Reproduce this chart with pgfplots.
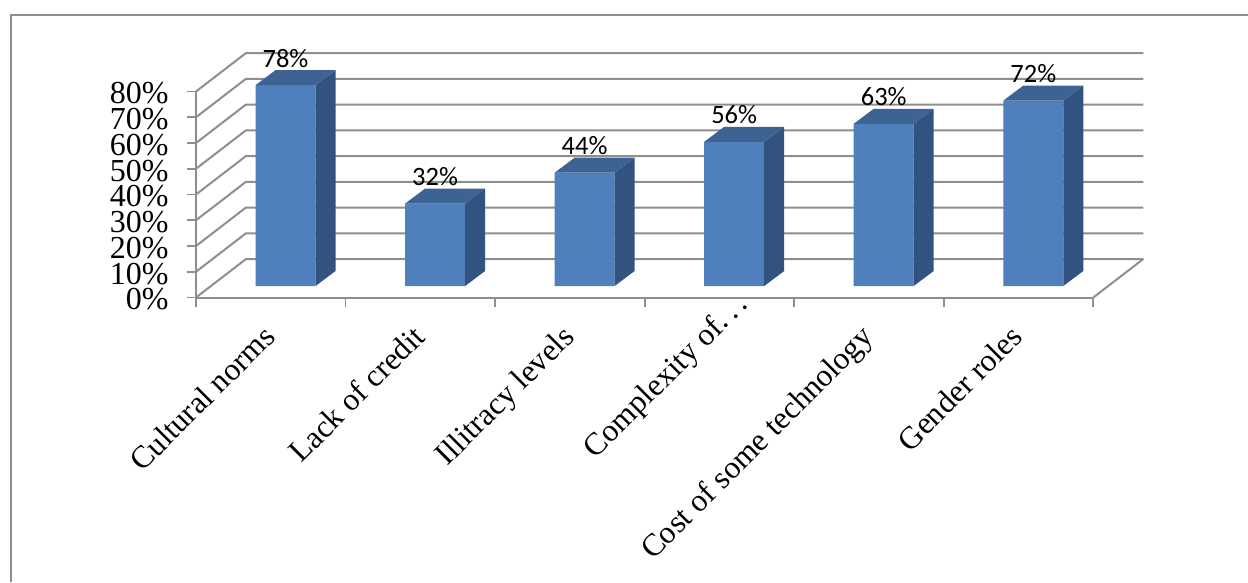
\documentclass[border=0pt]{standalone}
\usepackage{fontspec}
\setmainfont{Liberation Serif}
\newfontfamily\labelfont{Carlito}
\usepackage{pgfplots}
\usepackage{pgfplotstable}
\pgfplotsset{compat=1.18}

\definecolor{wallgray}{HTML}{8E8E8E}
\definecolor{barfront}{HTML}{4F80BD}
\definecolor{barside}{HTML}{325380}
\definecolor{bartop}{HTML}{3C6391}

\pgfplotstableread{
idx share
0 78
1 32
2 44
3 56
4 63
5 72
}\barriers

% Depth faces of a bar: origin is the top centre of its front face,
% \barval is the bar's value, 1% is 2.575pt tall.
\pgfdeclareplotmark{bardepth}{%
  \pgfmathsetmacro{\barh}{\barval*2.575}%
  \pgfsetfillcolor{barside}%
  \pgfpathmoveto{\pgfpoint{30pt}{0pt}}%
  \pgfpathlineto{\pgfpoint{50pt}{15pt}}%
  \pgfpathlineto{\pgfpoint{50pt}{15pt-\barh pt}}%
  \pgfpathlineto{\pgfpoint{30pt}{-\barh pt}}%
  \pgfpathclose
  \pgfusepathqfill
  \pgfsetfillcolor{bartop}%
  \pgfpathmoveto{\pgfpoint{-30pt}{0pt}}%
  \pgfpathlineto{\pgfpoint{30pt}{0pt}}%
  \pgfpathlineto{\pgfpoint{50pt}{15pt}}%
  \pgfpathlineto{\pgfpoint{-10pt}{15pt}}%
  \pgfpathclose
  \pgfusepathqfill
}

\begin{document}
\begin{tikzpicture}[x=1pt,y=1pt]
\path[use as bounding box] (0,0) rectangle (1248,582);
\draw[wallgray,line width=2pt] (11,0) -- (11,566.5) -- (1248,566.5);
\begin{axis}[
  at={(196pt,284.5pt)}, anchor=south west,
  scale only axis, width=897.3pt, height=206pt,
  clip=false,
  xmin=-0.5, xmax=5.5, ymin=0, ymax=80,
  axis x line*=bottom, axis y line*=left,
  axis line style={wallgray,line width=2pt,-},
  xtick={0,...,5},
  xticklabels={Cultural norms,Lack of credit,Illitracy levels,\raisebox{7pt}[\height][\depth]{Complexity of.\,.\,.}\kern-40pt\hbox{},Cost of some technology,Gender roles},
  major x tick style={draw=none},
  minor xtick={-0.5,0.5,...,5.5},
  minor tick length=9.5pt,
  minor x tick style={wallgray,line width=1.8pt},
  xtick pos=bottom,
  xticklabel style={font=\fontsize{31.5}{33}\selectfont,rotate=45,anchor=north east,xshift=-15pt,yshift=-1.5pt},
  ytick={0,10,...,80},
  yticklabels={0\%,10\%,20\%,30\%,40\%,50\%,60\%,70\%,80\%},
  ytick pos=left,
  tick align=outside,
  major y tick style={wallgray,line width=1.8pt},
  major tick length=9pt,
  yticklabel style={font=\fontsize{32}{33}\selectfont,anchor=east,xshift=-15pt,yshift=-2pt},
]
% side wall and back wall grid
\pgfplotsinvokeforeach{0,10,...,80}{
  \draw[wallgray,line width=2pt] (axis cs:-0.5,#1) -- ++(50pt,38.5pt) -- ++(897.3pt,0pt);
}
% floor edge on the right
\draw[wallgray,line width=2pt] (axis cs:5.5,0) -- ++(50pt,38.5pt);

% front faces
\addplot[ybar, bar width=60pt, draw=none, fill=barfront, xshift=14.75pt, yshift=11.5pt]
  table[x=idx,y=share] {\barriers};

% top and side faces, with the value labels above them
\addplot[
  scatter, only marks, mark=bardepth, draw=none, fill=none,
  scatter/use mapped color={draw=none,fill=none},
  visualization depends on={y \as \barval},
  xshift=14.75pt, yshift=11.5pt,
  point meta=explicit symbolic,
  nodes near coords={\labelfont\fontsize{26.5}{28}\selectfont\pgfplotspointmeta\%},
  nodes near coords style={anchor=base,yshift=18pt,text=black,inner sep=0pt},
] table[x=idx,y=share,meta=share] {\barriers};
\end{axis}
\end{tikzpicture}
\end{document}
